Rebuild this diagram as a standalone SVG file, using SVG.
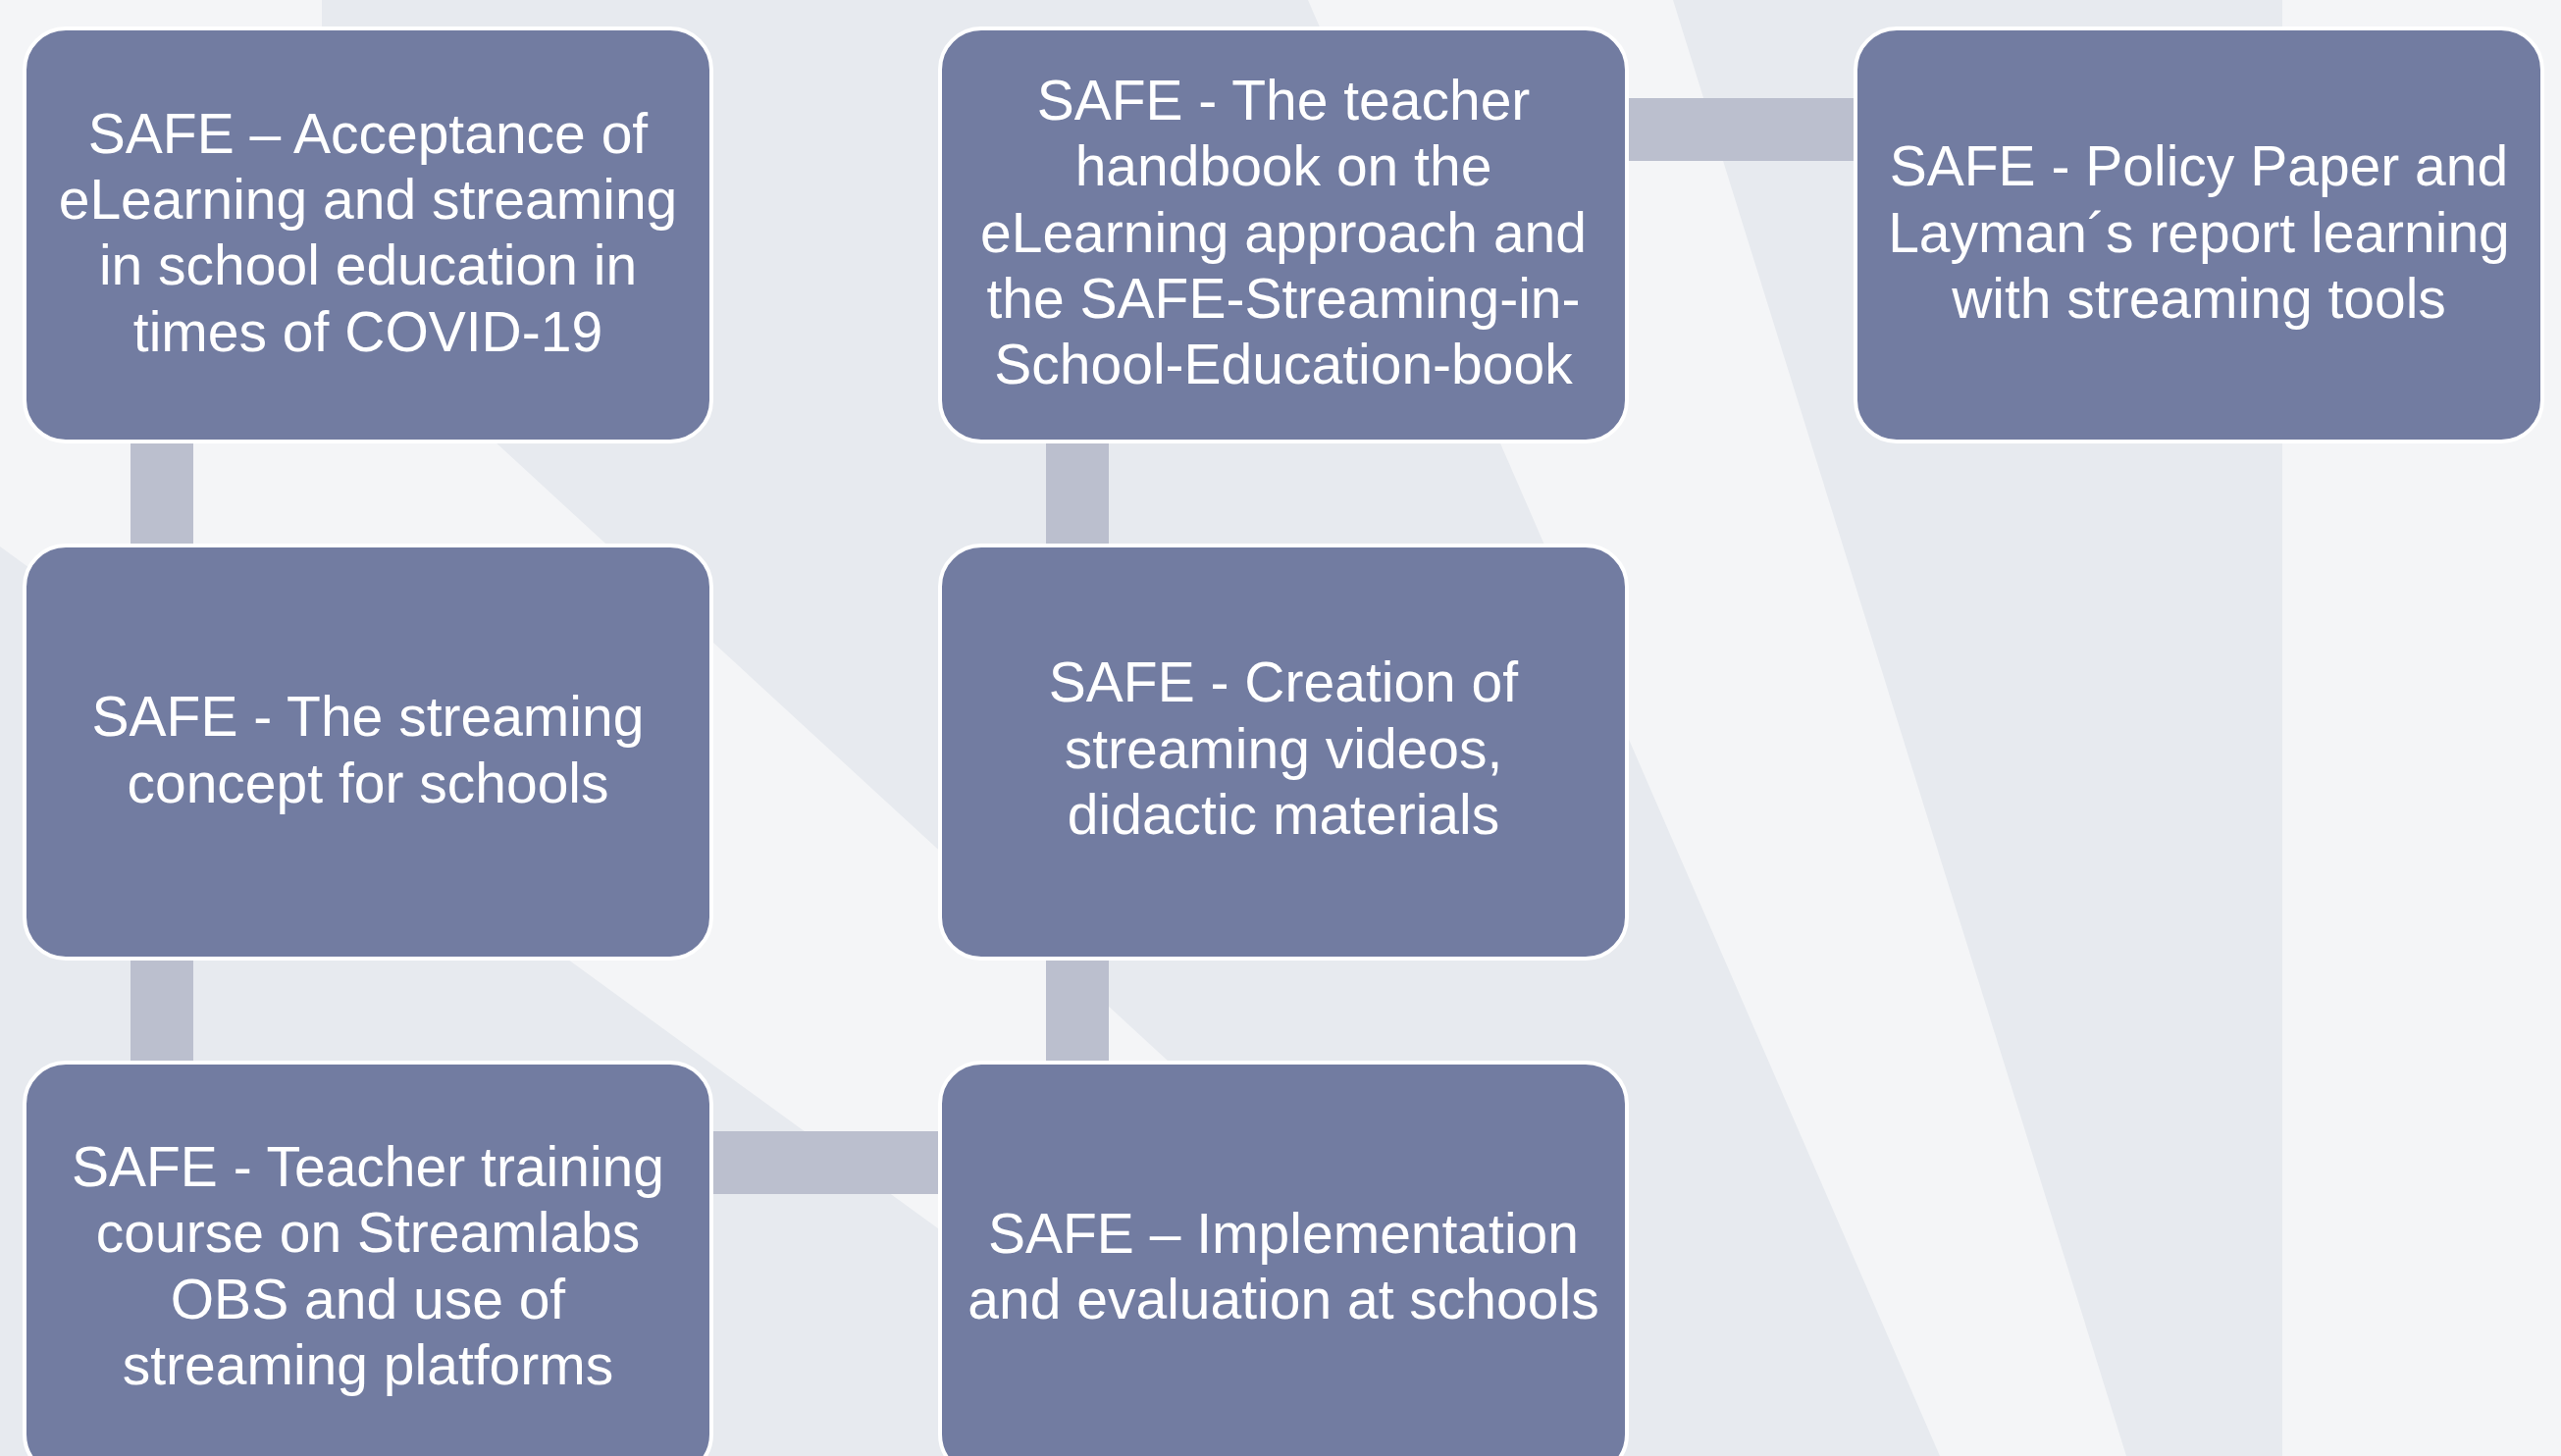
<svg xmlns="http://www.w3.org/2000/svg" width="2610" height="1484" viewBox="0 0 2610 1484">
<style>
.bgd{fill:#E7EAEF}
.bgl{fill:#F4F5F7}
.node rect{fill:#727CA1;stroke:#FFFFFF;stroke-width:4}
.node text{fill:#FFFFFF;font-family:"Liberation Sans",Arial,sans-serif;font-size:57px;text-anchor:middle}
.conn rect{fill:#BBBFCE}
</style>
<g id="background">
<rect class="bgd" x="0" y="0" width="2610" height="1484"/>
<polygon class="bgl" points="0,0 328,0 328,288 1628,1484 1275,1484 0,557"/>
<polygon class="bgl" points="1333,0 1705,0 2167,1484 1977,1484"/>
<rect class="bgl" x="2326" y="0" width="284" height="1484"/>
</g>
<g id="connectors" class="conn">
<rect x="133" y="448" width="64" height="110"/>
<rect x="133" y="975" width="64" height="110"/>
<rect x="1066" y="448" width="64" height="110"/>
<rect x="1066" y="975" width="64" height="110"/>
<rect x="723" y="1153" width="237" height="64"/>
<rect x="1656" y="100" width="237" height="64"/>
</g>
<g id="node1" class="node">
<rect x="25" y="29" width="700" height="421" rx="42" ry="42"/>
<text x="375" y="156">SAFE – Acceptance of</text>
<text x="375" y="223">eLearning and streaming</text>
<text x="375" y="290">in school education in</text>
<text x="375" y="358">times of COVID-19</text>
</g>
<g id="node2" class="node">
<rect x="958" y="29" width="700" height="421" rx="42" ry="42"/>
<text x="1308" y="122">SAFE - The teacher</text>
<text x="1308" y="189">handbook on the</text>
<text x="1308" y="257">eLearning approach and</text>
<text x="1308" y="324">the SAFE-Streaming-in-</text>
<text x="1308" y="391">School-Education-book</text>
</g>
<g id="node3" class="node">
<rect x="1891" y="29" width="700" height="421" rx="42" ry="42"/>
<text x="2241" y="189">SAFE - Policy Paper and</text>
<text x="2241" y="257">Layman´s report learning</text>
<text x="2241" y="324">with streaming tools</text>
</g>
<g id="node4" class="node">
<rect x="25" y="556" width="700" height="421" rx="42" ry="42"/>
<text x="375" y="750">SAFE - The streaming</text>
<text x="375" y="818">concept for schools</text>
</g>
<g id="node5" class="node">
<rect x="958" y="556" width="700" height="421" rx="42" ry="42"/>
<text x="1308" y="715">SAFE - Creation of</text>
<text x="1308" y="783">streaming videos,</text>
<text x="1308" y="850">didactic materials</text>
</g>
<g id="node6" class="node">
<rect x="25" y="1083" width="700" height="421" rx="42" ry="42"/>
<text x="375" y="1209">SAFE - Teacher training</text>
<text x="375" y="1276">course on Streamlabs</text>
<text x="375" y="1344">OBS and use of</text>
<text x="375" y="1411">streaming platforms</text>
</g>
<g id="node7" class="node">
<rect x="958" y="1083" width="700" height="421" rx="42" ry="42"/>
<text x="1308" y="1277">SAFE – Implementation</text>
<text x="1308" y="1344">and evaluation at schools</text>
</g>
</svg>
